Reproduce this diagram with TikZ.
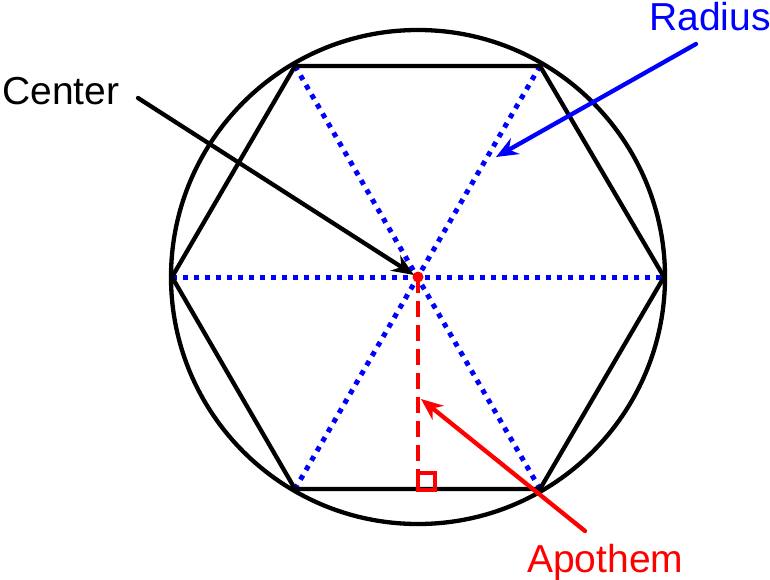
\documentclass[tikz,border=0pt]{standalone}
\usepackage{fontspec}
\setmainfont{Liberation Sans}
\usetikzlibrary{arrows.meta}
\begin{document}
\begin{tikzpicture}[x=1pt,y=-1pt,
  blk/.style={line width=4.3pt, black},
  rad/.style={line width=5pt, blue, dash pattern=on 5pt off 6pt},
  apo/.style={line width=4.3pt, red, dash pattern=on 16pt off 8pt},
  lbl/.style={font=\fontsize{39}{42}\selectfont, inner sep=0pt, anchor=base west},
  ptr/.style={line width=4.3pt, -{Stealth[length=22pt,width=18pt]}, line cap=round}]
\useasboundingbox (0,0) rectangle (770,580);
\coordinate (O) at (418,277);
\coordinate (A) at (172,277);
\coordinate (B) at (295,66);
\coordinate (C) at (540,66);
\coordinate (D) at (664,277);
\coordinate (E) at (540,489);
\coordinate (F) at (295,489);
\coordinate (M) at (418,489);
% radii
\draw[rad] (A) -- (D);
\draw[rad] (B) -- (E);
\draw[rad] (C) -- (F);
% circle and hexagon
\draw[blk] (O) circle (247);
\draw[blk, line join=miter] (A) -- (B) -- (C) -- (D) -- (E) -- (F) -- cycle;
% apothem
\draw[apo] (O) -- (M);
\draw[red, line width=3.5pt] ([yshift=-1pt]M) rectangle ++(17,-17);
\fill[red] (O) circle (5.5);
% labels
\node[lbl] (tc) at (2,105) {Center};
\node[lbl, blue] (tr) at (649,31) {Radius};
\node[lbl, red] (ta) at (527,572) {Apothem};
\coordinate (c0) at (138,98);
\coordinate (c1) at (414,275);
\coordinate (r0) at (696,44);
\coordinate (r1) at (496,157);
\coordinate (a0) at (585,531);
\coordinate (a1) at (421,399);
\draw[ptr, black] (c0) -- (c1);
\draw[ptr, blue] (r0) -- (r1);
\draw[ptr, red] (a0) -- (a1);
\end{tikzpicture}
\end{document}
